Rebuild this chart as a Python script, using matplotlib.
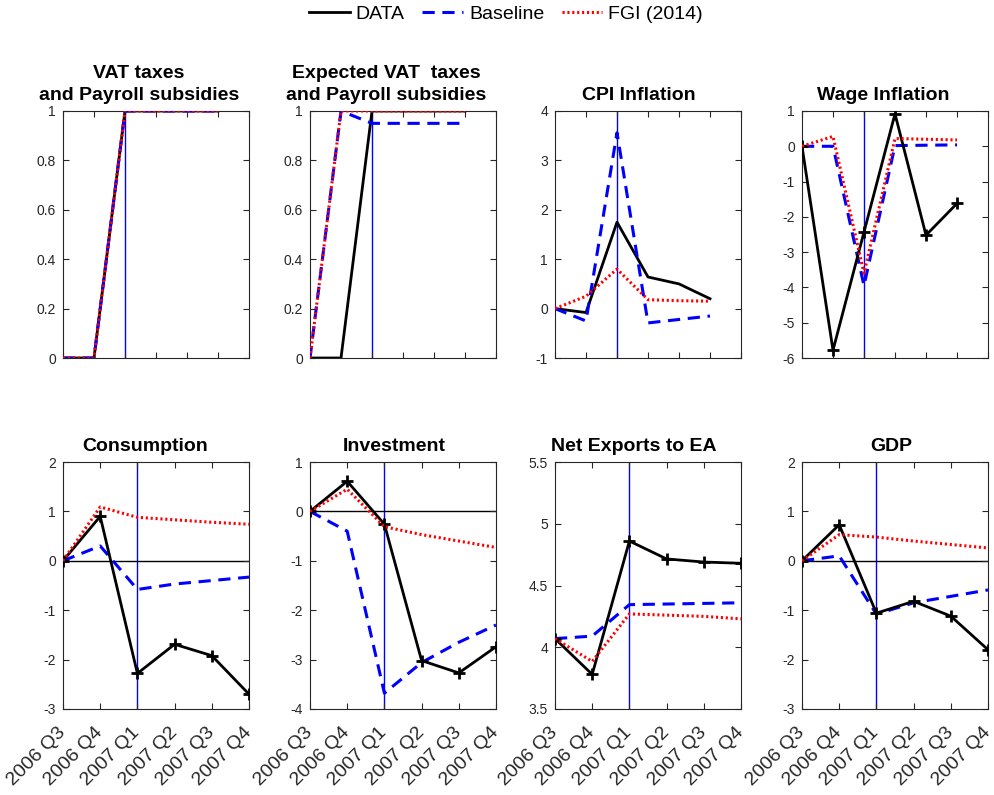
import matplotlib
matplotlib.use("Agg")
import matplotlib.pyplot as plt
from matplotlib.lines import Line2D

plt.rcParams['font.family'] = ['Liberation Sans', 'DejaVu Sans']

quarters = ["2006 Q3", "2006 Q4", "2007 Q1", "2007 Q2", "2007 Q3", "2007 Q4"]

titles = ["VAT taxes\nand Payroll subsidies",
          "Expected VAT  taxes\nand Payroll subsidies",
          "CPI Inflation", "Wage Inflation",
          "Consumption", "Investment", "Net Exports to EA", "GDP"]

data_vat = [0, 0, 1, 1, 1, 1]
base_vat = [0, 0, 1, 1, 1, 1]
fgi_vat = [0, 0, 1, 1, 1, 1]

data_evat = [0, 0, 1, 1, 1, 1]
base_evat = [0, 1, 0.95, 0.95, 0.95, 0.95]
fgi_evat = [0, 1, 1, 1, 1, 1]

data_cpi = [0, -0.08, 1.75, 0.64, 0.50, 0.20]
base_cpi = [0, -0.25, 3.56, -0.29, -0.22, -0.15]
fgi_cpi = [0, 0.25, 0.80, 0.18, 0.16, 0.15]

data_wage = [0, -5.78, -2.43, 0.92, -2.52, -1.62]
base_wage = [0, 0, -3.95, 0.02, 0.03, 0.04]
fgi_wage = [0, 0.28, -3.60, 0.22, 0.20, 0.18]

data_cons = [0, 0.90, -2.28, -1.69, -1.92, -2.70]
base_cons = [0, 0.30, -0.58, -0.47, -0.40, -0.33]
fgi_cons = [0, 1.09, 0.88, 0.83, 0.78, 0.74]

data_inv = [0, 0.61, -0.26, -3.02, -3.27, -2.74]
base_inv = [0, -0.40, -3.68, -3.06, -2.65, -2.30]
fgi_inv = [0, 0.45, -0.31, -0.47, -0.60, -0.73]

data_nx = [4.07, 3.78, 4.86, 4.715, 4.69, 4.68]
base_nx = [4.07, 4.09, 4.345, 4.35, 4.355, 4.36]
fgi_nx = [4.07, 3.885, 4.27, 4.26, 4.25, 4.23]

data_gdp = [0, 0.73, -1.06, -0.82, -1.12, -1.80]
base_gdp = [0, 0.10, -1.08, -0.85, -0.72, -0.59]
fgi_gdp = [0, 0.53, 0.48, 0.40, 0.33, 0.26]

series = [(data_vat, base_vat, fgi_vat), (data_evat, base_evat, fgi_evat),
          (data_cpi, base_cpi, fgi_cpi), (data_wage, base_wage, fgi_wage),
          (data_cons, base_cons, fgi_cons), (data_inv, base_inv, fgi_inv),
          (data_nx, base_nx, fgi_nx), (data_gdp, base_gdp, fgi_gdp)]

ylims = [(0, 1), (0, 1), (-1, 4), (-6, 1), (-3, 2), (-4, 1), (3.5, 5.5), (-3, 2)]
yticks = [[0, 0.2, 0.4, 0.6, 0.8, 1], [0, 0.2, 0.4, 0.6, 0.8, 1],
          [-1, 0, 1, 2, 3, 4], [-6, -5, -4, -3, -2, -1, 0, 1],
          [-3, -2, -1, 0, 1, 2], [-4, -3, -2, -1, 0, 1],
          [3.5, 4, 4.5, 5, 5.5], [-3, -2, -1, 0, 1, 2]]
markers = [False, False, False, True, True, True, True, True]
zero_line = [False, False, False, False, True, True, False, True]

W, H = 994, 795
fig = plt.figure(figsize=(W / 100, H / 100), dpi=100)

lefts = [63, 310, 555, 802]
width = 186
tops = [111, 462]
height = 247

gray = (0.15, 0.15, 0.15)
x = list(range(1, 7))
BLUE_D = (4, 2.5)
RED_D = (0.7, 0.9)

title_objs = []
for i in range(8):
    r, c = divmod(i, 4)
    ax = fig.add_axes([lefts[c] / W, 1 - (tops[r] + height) / H, width / W, height / H])
    d, b, f = series[i]
    ax.axvline(3, color=(0, 0, 1), lw=1.0, zorder=1)
    if zero_line[i]:
        ax.axhline(0, color='black', lw=1.0, zorder=1)
    ax.plot(x, b, color=(0, 0, 1), lw=2.2, dashes=BLUE_D, zorder=3)
    if markers[i]:
        ax.plot(x, d, color='black', lw=2.0, marker='+', ms=9, mew=2.0, zorder=4)
    else:
        ax.plot(x, d, color='black', lw=2.0, zorder=2)
    ax.plot(x, f, color=(1, 0, 0), lw=2.2, dashes=RED_D, zorder=5)
    ax.set_ylim(*ylims[i])
    ax.set_yticks(yticks[i])
    ax.set_yticklabels([("%g" % v) for v in yticks[i]])
    ax.tick_params(direction='in', top=True, right=True, length=4, width=0.8,
                   colors=gray, labelsize=10, pad=5)
    if r == 0:
        ax.set_xlim(1, 7)
        ax.set_xticks(range(1, 8))
        ax.set_xticklabels([])
    else:
        ax.set_xlim(1, 6)
        ax.set_xticks(x)
        ax.set_xticklabels(quarters, rotation=45, ha='right', va='center',
                           rotation_mode='anchor', fontsize=14, color=gray)
        ax.tick_params(axis='x', pad=15)
    for s in ax.spines.values():
        s.set_color(gray)
        s.set_linewidth(0.8)
    t = ax.set_title(titles[i], fontsize=14, fontweight='bold', pad=8, linespacing=1.35)
    title_objs.append((ax, t))

handles = [Line2D([], [], color='black', lw=2.0),
           Line2D([], [], color=(0, 0, 1), lw=2.2, dashes=BLUE_D),
           Line2D([], [], color=(1, 0, 0), lw=2.2, dashes=RED_D)]
fig.legend(handles, ["DATA", "Baseline", "FGI (2014)"], loc='center',
           bbox_to_anchor=(506 / W, 1 - 14 / H), ncol=3, frameon=False,
           fontsize=14, handlelength=2.1, handletextpad=0.3, columnspacing=0.9)

# reference titles sit slightly left of centre, more so for longer titles
fig.canvas.draw()
renderer = fig.canvas.get_renderer()
for ax, t in title_objs:
    tw = t.get_window_extent(renderer).width
    aw = ax.get_window_extent(renderer).width
    t.set_x(0.5 - 0.085 * tw / aw)

fig.savefig("out.png", dpi=100)
